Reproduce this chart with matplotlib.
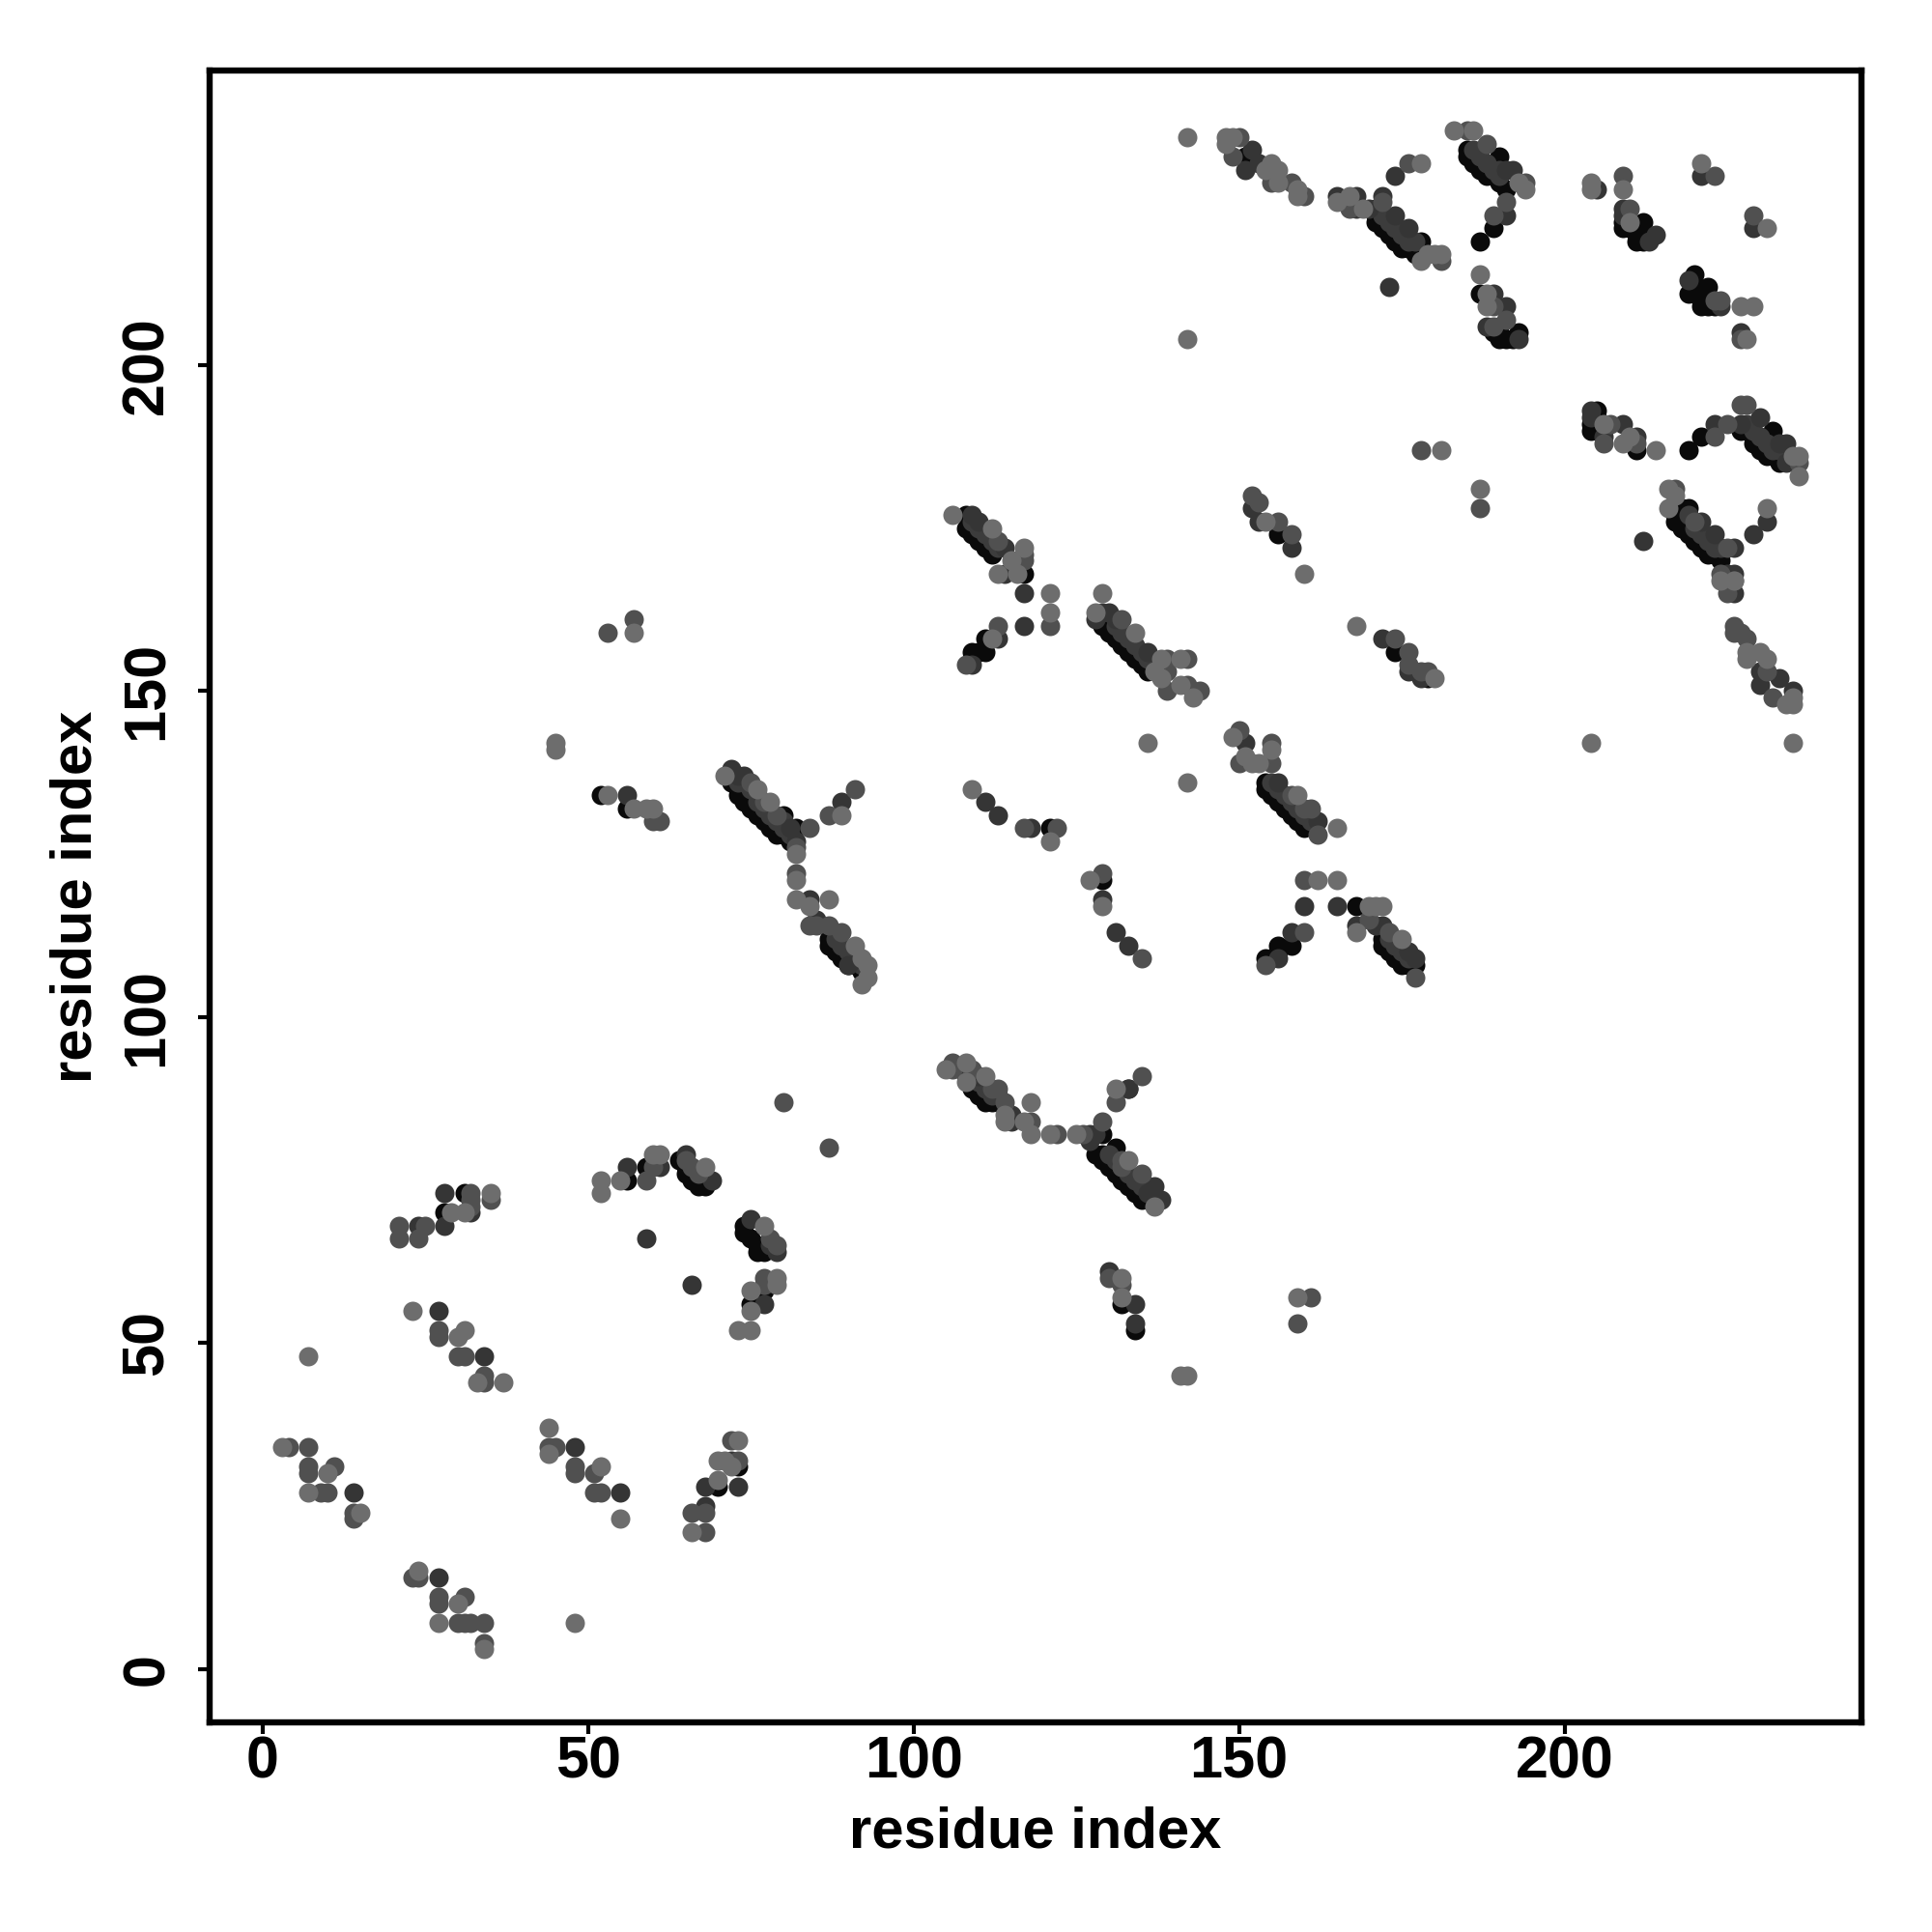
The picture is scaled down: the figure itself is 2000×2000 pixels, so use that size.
import matplotlib
matplotlib.use("Agg")
import matplotlib.pyplot as plt

# (residue x, residue y) contacts, grouped by grey tone
contacts_black = [
 (70,28),(73,31),(56,75),(59,77),(65,77),(65,76),(66,75),(67,74),(68,74),(64,78),
 (74,68),(74,67),(75,66),(76,65),(76,64),(77,64),(75,56),(77,58),(31,73),(28,70),
 (52,134),(56,132),(72,136),(73,135),(73,134),(74,134),(74,133),(75,133),(75,132),(76,132),(76,131),
 (77,131),(77,130),(78,130),(78,129),(79,129),(79,128),(80,128),(81,128),(80,131),(82,129),(81,127),
 (87,112),(87,111),(88,111),(88,110),(89,110),(89,109),(90,109),(90,108),(91,108),(92,107),
 (109,89),(110,89),(110,88),(111,88),(111,87),(112,87),(113,87),(109,90),
 (131,80),(128,79),(129,79),(129,78),(130,78),(130,77),(131,77),(131,76),(132,76),(132,75),(133,75),(133,74),
 (134,74),(134,73),(135,73),(135,72),(136,72),(129,82),(132,56),(134,52),(133,89),
 (108,177),(108,175),(109,174),(109,175),(110,174),(110,173),(111,173),(111,172),(112,172),(112,171),(117,168),
 (111,158),(111,156),(109,156),(110,156),(109,155),(121,129),(129,121),
 (129,160),(130,160),(130,159),(131,159),(131,158),(132,158),(132,157),(133,157),(133,156),(134,156),(134,155),
 (135,155),(135,154),(136,154),(136,153),(154,135),(154,136),(155,135),(155,134),(156,134),(156,133),(157,133),
 (157,132),(158,132),(158,131),(159,131),(159,130),(160,130),(160,129),
 (156,174),(174,156),(179,152),
 (168,117),(172,112),(172,111),(173,111),(173,110),(174,110),(174,109),(175,109),(175,108),(176,108),(177,108),
 (158,111),(156,111),(156,110),(154,109),(155,109),
 (151,232),(171,224),(171,223),(171,222),(172,222),(172,221),(173,221),(173,220),(174,220),(174,219),(175,219),
 (175,218),(176,218),(177,217),(178,219),(178,218),(177,218),
 (185,233),(185,232),(186,232),(186,231),(187,231),(187,230),(188,230),(188,229),(189,229),(190,232),(191,227),(190,228),
 (189,221),(187,219),(187,211),(190,206),(190,204),(191,204),(192,204),(193,205),(189,205),(190,205),
 (209,222),(209,221),(210,221),(211,221),(211,220),(211,219),(212,222),(212,220),(212,219),
 (220,214),(219,211),(220,212),(220,211),(221,211),(221,210),(222,212),(221,209),(222,209),(223,209),
 (205,193),(204,190),(204,191),(205,192),(211,187),(219,187),(221,189),
 (227,190),(228,190),(229,189),(229,188),(230,188),(230,187),(231,187),(231,186),(232,190),(233,185),(232,186),
 (218,178),(219,178),(217,177),(217,176),(218,176),(218,175),(219,175),(219,174),(220,174),(220,173),(221,173),
 (221,172),(222,172),(222,171),(223,171),(224,170),(224,171),
]
contacts_band = [
 (73,136),(74,136),(75,135),(76,134),(76,133),(77,132),(78,131),(79,130),(80,130),(80,129),(81,128),
 (88,112),(89,111),(90,110),(91,110),(91,109),(92,108),
 (110,90),(111,89),(112,88),(113,88),
 (130,79),(131,78),(132,77),(133,76),(134,75),(135,74),(136,74),
 (109,176),(110,175),(111,174),(112,173),(113,172),
 (131,160),(132,159),(133,158),(134,157),(135,156),(136,155),(137,154),
 (155,136),(156,135),(157,134),(158,133),(159,132),(160,131),(161,130),
 (173,112),(174,111),(175,110),(176,109),
 (172,223),(173,222),(174,221),(175,220),(176,219),(177,219),
 (186,233),(187,232),(188,231),(189,230),(190,229),(190,230),
 (219,177),(220,175),(221,174),(222,173),(223,172),(224,172),
 (228,191),(229,190),(230,189),(231,188),(232,187),(233,187),
]
contacts_dark = [
 (27,14),(14,27),(48,34),(55,27),(68,28),(73,28),(72,32),
 (27,55),(34,48),(28,73),(28,68),(32,70),(56,77),(61,77),(65,79),(69,75),(59,66),(66,59),
 (75,69),(77,56),(78,65),(79,64),(77,59),(68,25),(24,68),
 (56,134),(72,138),(74,137),(73,137),(89,133),(82,127),(85,115),(84,118),(90,108),(81,129),
 (108,91),(110,91),(115,85),(115,84),(127,82),(128,82),(127,81),(133,89),(137,74),(138,72),(130,61),(134,56),(134,53),(136,73),
 (109,177),(110,176),(114,172),(116,170),(114,168),(117,165),(117,160),(113,158),(129,162),(130,162),(136,156),(129,118),
 (111,133),(113,131),(118,129),(131,113),(133,111),(131,161),(109,154),(128,161),
 (152,178),(153,176),(158,172),(172,158),(178,152),(176,153),(156,136),(151,142),(162,130),
 (160,117),(165,117),(168,114),(171,114),(172,114),(176,110),(177,109),(158,113),(156,109),
 (152,233),(151,230),(153,231),(165,226),(168,226),(168,224),(170,224),(172,226),(174,223),(176,221),(174,229),(173,212),
 (191,230),(192,230),(191,223),(189,211),(191,209),(188,206),(193,204),
 (205,227),(209,224),(209,223),(213,219),(214,220),(221,229),(229,221),(219,213),(224,209),(227,205),(204,193),
 (204,192),(209,191),(206,189),(211,189),(223,191),(227,191),(230,192),(234,188),(233,188),(234,185),
 (212,173),(221,176),(223,174),(226,172),(225,168),(226,168),(226,165),(231,176),(229,174),
 (230,153),(230,151),(233,152),(235,150),
]
contacts_mid = [
 (23,14),(24,14),(27,11),(27,10),(31,11),(30,7),(31,7),(32,7),(34,7),(34,4),(4,34),(7,34),(7,31),(7,30),(11,31),(9,27),(10,27),(14,24),(14,23),
 (44,34),(45,34),(48,31),(48,30),(51,30),(51,27),(52,27),(66,24),(68,24),(68,21),(72,35),(73,32),
 (27,52),(27,51),(30,48),(31,48),(34,44),(34,45),
 (21,66),(21,68),(24,66),(25,68),(32,73),(32,72),(32,71),(35,72),(60,77),(65,78),(66,77),(67,76),(59,75),
 (78,66),(79,65),(77,60),(77,59),
 (53,159),(57,161),(60,130),(61,130),(75,136),(77,133),(79,131),(82,126),(82,122),(84,129),(87,131),(91,135),
 (80,87),(87,80),(84,114),(85,114),(87,114),(89,113),
 (106,93),(106,92),(109,92),(112,89),(113,89),(114,87),(118,84),(122,82),(126,82),(129,84),(131,87),(135,91),(130,60),(132,59),(161,57),(159,53),(132,77),(132,78),(135,76),
 (108,154),(113,160),(121,160),(117,170),(117,171),(113,173),(132,161),(139,155),(142,155),(139,153),(139,150),(142,151),(144,150),
 (117,129),(122,129),(129,122),(135,109),
 (152,180),(153,179),(156,176),(158,174),(174,158),(176,156),(179,153),(178,153),(176,154),
 (150,144),(150,139),(155,142),(155,139),(158,134),(161,132),(160,132),(162,128),(160,121),(170,115),(173,113),(177,106),(160,113),(154,108),
 (149,232),(150,235),(155,228),(158,228),(160,226),(167,224),(172,225),(176,231),(181,216),
 (185,236),(188,234),(194,228),(191,225),(189,223),(189,209),(191,207),(189,206),
 (210,224),(209,229),(223,229),(223,210),(224,210),(229,223),(227,204),(207,191),(206,188),(211,188),(225,191),(227,194),(228,194),(236,185),
 (223,189),(217,181),(220,176),(225,172),(224,168),(226,167),(225,165),
 (226,160),(226,159),(227,159),(228,158),(231,153),(232,149),(187,178),(178,187),
]
contacts_light = [
 (24,15),(27,7),(30,10),(48,7),(34,3),(3,34),(10,30),(7,27),(15,24),(44,37),(44,33),(52,31),(55,23),
 (66,21),(70,29),(70,32),(72,31),(73,35),(71,32),(23,55),(30,51),(31,52),(33,44),(37,44),(7,48),
 (29,70),(31,70),(35,73),(52,75),(52,73),(55,75),(60,79),(61,79),(68,77),(77,68),(79,60),(79,59),(75,58),(75,55),(73,52),(75,52),
 (57,159),(45,142),(45,141),(53,134),(57,132),(59,132),(60,132),(71,137),(76,135),(78,133),(82,125),(82,121),(89,131),
 (82,118),(87,118),(84,117),(91,111),(92,109),(93,108),(93,106),(92,105),
 (105,92),(108,93),(108,90),(111,91),(114,85),(114,84),(118,87),(117,84),(118,82),(121,82),(125,82),(131,89),(133,78),(137,71),
 (132,60),(132,57),(141,45),(142,45),(159,57),
 (106,177),(112,175),(117,172),(115,170),(113,168),(116,168),(121,165),(121,162),(112,158),(129,165),(128,162),(134,159),
 (141,155),(138,155),(141,151),(143,149),(137,153),(138,152),(136,142),(142,136),(109,135),(121,127),(127,121),(129,117),
 (154,176),(160,168),(168,160),(180,152),(149,143),(151,140),(153,139),(152,139),(155,141),(159,134),(165,129),
 (162,121),(165,121),(170,117),(171,117),(172,117),(168,113),(175,112),
 (142,235),(142,204),(148,235),(149,235),(148,234),(155,231),(156,230),(154,230),(156,228),(159,227),(159,226),
 (165,225),(167,226),(169,224),(178,231),(178,216),(179,217),(180,217),(181,217),
 (183,236),(186,236),(193,228),(194,227),(187,214),(188,211),(188,209),(187,181),(181,187),
 (204,228),(204,227),(209,227),(210,222),(221,231),(231,221),(227,209),(229,209),(228,204),
 (206,191),(209,188),(210,189),(214,187),(235,186),(236,186),(236,183),
 (216,181),(216,178),(217,180),(224,167),(226,167),(231,178),
 (228,156),(228,155),(230,156),(231,155),(234,148),(235,148),(235,149),(235,142),(204,142),
]
tones = {"#0a0a0a": contacts_black, "#3c3c3c": contacts_band, "#353535": contacts_dark,
         "#505050": contacts_mid, "#6d6d6d": contacts_light}
tick_values = [0, 50, 100, 150, 200]
axis_title = "residue index"

plt.rcParams["font.family"] = ["Liberation Sans", "DejaVu Sans"]
plt.rcParams["font.weight"] = "bold"
fig = plt.figure(figsize=(10, 10), dpi=200)
ax = fig.add_axes([217/2000, 1-1783/2000, (1927-217)/2000, (1783-73)/2000])

for colour, pts in tones.items():
    xs, ys = zip(*pts)
    ax.scatter(xs, ys, s=(20*0.36)**2, c=colour, linewidths=0, zorder=3)

ax.set_xlim(-8.1, 245.6)
ax.set_ylim(-8.2, 245.2)
ax.set_xticks(tick_values)
ax.set_yticks(tick_values)
ax.tick_params(axis="x", length=4.2, width=1.5, labelsize=22, pad=0.5)
ax.tick_params(axis="y", length=4.2, width=1.5, labelsize=22, pad=8.5)
for t in ax.get_yticklabels():
    t.set_rotation(90)
    t.set_va("center")
ax.set_xlabel(axis_title, fontsize=21.5, fontweight="bold", labelpad=6)
ax.set_ylabel(axis_title, fontsize=21.5, fontweight="bold", labelpad=6.5)
for s in ax.spines.values():
    s.set_linewidth(2.3)
fig.savefig("out.png", dpi=200, facecolor="white")
